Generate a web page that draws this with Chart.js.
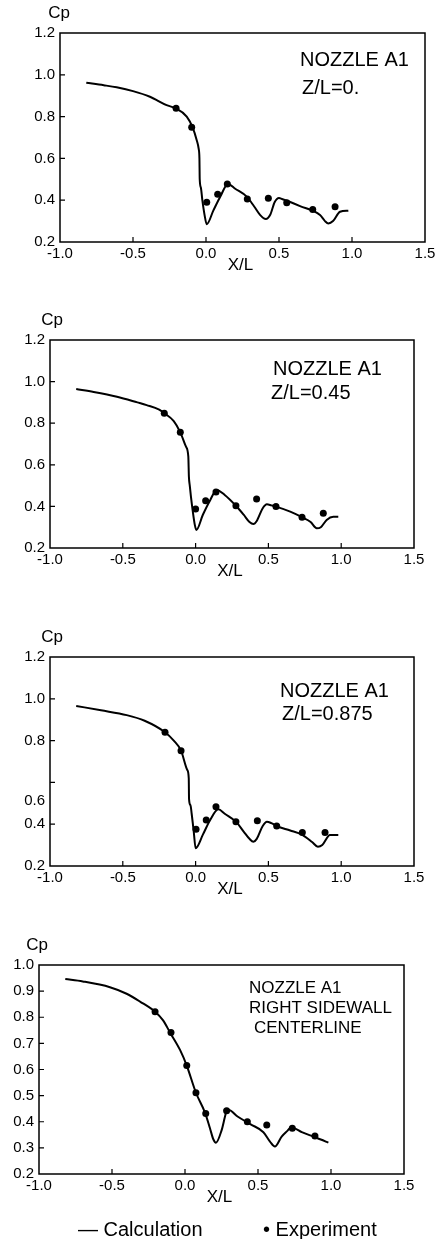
<!DOCTYPE html>
<html>
<head>
<meta charset="utf-8">
<script src="https://cdn.jsdelivr.net/npm/chart.js@4.4.0/dist/chart.umd.min.js"></script>
<style>
  html, body { margin: 0; padding: 0; background: #fff; }
  #page { position: relative; width: 440px; height: 1239px; overflow: hidden; font-family: "Liberation Sans", Arial, sans-serif; }
  #page canvas { position: absolute; left: 0; }
  .legend { position: absolute; top: 1219px; font-size: 20px; line-height: 20px; color: #000; white-space: nowrap; }
</style>
</head>
<body>
<div id="page">
  <canvas id="c1" width="440" height="300" style="top:0"></canvas>
  <canvas id="c2" width="440" height="300" style="top:300px"></canvas>
  <canvas id="c3" width="440" height="300" style="top:600px"></canvas>
  <canvas id="c4" width="440" height="339" style="top:900px"></canvas>
  <div class="legend" style="left:78px">— Calculation</div>
  <div class="legend" style="left:263px">• Experiment</div>
</div>
<script>
// Cp langs X/L, nozzle A1

const xTicks = [-1.0, -0.5, 0.0, 0.5, 1.0, 1.5];

// Paneel 1: Z/L = 0.
const calcX1 = [-0.82, -0.7, -0.612, -0.5, -0.384, -0.27, -0.21, -0.132, -0.091, -0.064, -0.05, -0.045, -0.043, -0.035, -0.025, -0.01, 0.005, 0.05, 0.1, 0.15, 0.2, 0.279, 0.33, 0.37, 0.41, 0.44, 0.47, 0.5, 0.52, 0.644, 0.781, 0.815, 0.838, 0.87, 0.918, 0.975];
const calcY1 = [0.962, 0.95, 0.94, 0.922, 0.895, 0.855, 0.84, 0.80, 0.747, 0.688, 0.645, 0.60, 0.50, 0.46, 0.40, 0.33, 0.285, 0.35, 0.42, 0.478, 0.455, 0.417, 0.37, 0.33, 0.31, 0.33, 0.39, 0.41, 0.406, 0.372, 0.329, 0.30, 0.289, 0.30, 0.345, 0.35];
const expX1 = [-0.205, -0.098, 0.005, 0.08, 0.146, 0.283, 0.427, 0.553, 0.731, 0.884];
const expY1 = [0.84, 0.749, 0.39, 0.428, 0.477, 0.406, 0.409, 0.388, 0.356, 0.369];

// Paneel 2: Z/L = 0.45
const calcX2 = [-0.82, -0.7, -0.54, -0.4, -0.336, -0.25, -0.215, -0.15, -0.105, -0.066, -0.05, -0.046, -0.04, -0.032, -0.02, -0.005, 0.005, 0.05, 0.1, 0.145, 0.2, 0.277, 0.33, 0.37, 0.397, 0.42, 0.46, 0.49, 0.52, 0.552, 0.65, 0.731, 0.79, 0.832, 0.86, 0.9, 0.946, 0.98];
const calcY2 = [0.964, 0.95, 0.927, 0.90, 0.887, 0.865, 0.848, 0.81, 0.756, 0.687, 0.639, 0.543, 0.50, 0.447, 0.38, 0.31, 0.287, 0.36, 0.43, 0.479, 0.455, 0.403, 0.36, 0.325, 0.315, 0.33, 0.39, 0.41, 0.405, 0.399, 0.375, 0.348, 0.325, 0.295, 0.30, 0.335, 0.35, 0.35];
const expX2 = [-0.215, -0.105, 0.0, 0.069, 0.14, 0.277, 0.419, 0.552, 0.731, 0.877];
const expY2 = [0.848, 0.756, 0.388, 0.427, 0.469, 0.403, 0.436, 0.399, 0.348, 0.367];

// Paneel 3: Z/L = 0.875
const calcX3 = [-0.82, -0.65, -0.473, -0.35, -0.21, -0.15, -0.1, -0.057, -0.047, -0.045, -0.035, -0.027, -0.012, 0.0, 0.05, 0.1, 0.156, 0.2, 0.28, 0.33, 0.37, 0.397, 0.42, 0.46, 0.49, 0.52, 0.56, 0.65, 0.73, 0.8, 0.84, 0.87, 0.923, 0.98];
const calcY3 = [0.966, 0.945, 0.922, 0.895, 0.84, 0.80, 0.752, 0.659, 0.62, 0.52, 0.49, 0.45, 0.36, 0.285, 0.35, 0.42, 0.471, 0.45, 0.41, 0.365, 0.33, 0.316, 0.33, 0.39, 0.412, 0.405, 0.39, 0.37, 0.35, 0.315, 0.292, 0.30, 0.348, 0.348];
const expX3 = [-0.21, -0.1, 0.003, 0.073, 0.14, 0.277, 0.424, 0.557, 0.733, 0.889];
const expY3 = [0.84, 0.752, 0.376, 0.42, 0.484, 0.412, 0.417, 0.391, 0.36, 0.36];

// Paneel 4: rechter zijwand, middellijn
const calcX4 = [-0.82, -0.7, -0.514, -0.4, -0.308, -0.205, -0.15, -0.103, -0.034, 0.012, 0.075, 0.137, 0.171, 0.194, 0.212, 0.251, 0.274, 0.285, 0.3, 0.36, 0.45, 0.537, 0.582, 0.616, 0.662, 0.703, 0.719, 0.74, 0.8, 0.879, 0.93, 0.982];
const calcY4 = [0.946, 0.937, 0.915, 0.89, 0.86, 0.821, 0.788, 0.742, 0.675, 0.615, 0.511, 0.435, 0.375, 0.333, 0.32, 0.368, 0.42, 0.442, 0.445, 0.42, 0.39, 0.36, 0.324, 0.305, 0.343, 0.366, 0.375, 0.376, 0.36, 0.343, 0.332, 0.32];
const expX4 = [-0.205, -0.096, 0.012, 0.075, 0.142, 0.285, 0.427, 0.56, 0.735, 0.89];
const expY4 = [0.821, 0.742, 0.615, 0.511, 0.432, 0.442, 0.40, 0.388, 0.375, 0.345];

const FONT = '"Liberation Sans", Arial, sans-serif';

const toPoints = (xs, ys) => xs.map((x, i) => ({ x: x, y: ys[i] }));

// Kader, naar binnen gerichte tickjes en teksten
const framePlugin = {
    id: 'frame',
    afterDraw(chart, args, opts) {
        const { ctx, chartArea: a, scales } = chart;
        ctx.save();
        ctx.strokeStyle = '#000';
        ctx.lineWidth = 1.5;
        ctx.strokeRect(a.left, a.top, a.right - a.left, a.bottom - a.top);

        ctx.lineWidth = 1.2;
        ctx.beginPath();
        scales.x.ticks.forEach(t => {
            const px = scales.x.getPixelForValue(t.value);
            if (px > a.left + 1 && px < a.right - 1) {
                ctx.moveTo(px, a.bottom);
                ctx.lineTo(px, a.bottom - 5);
            }
        });
        scales.y.ticks.forEach(t => {
            const py = scales.y.getPixelForValue(t.value);
            if (py > a.top + 1 && py < a.bottom - 1) {
                ctx.moveTo(a.left, py);
                ctx.lineTo(a.left + 5, py);
            }
        });
        ctx.stroke();

        ctx.fillStyle = '#000';
        ctx.textBaseline = 'alphabetic';
        // Cp boven de y-as, X/L onder de x-as
        ctx.font = '17px ' + FONT;
        ctx.textAlign = 'center';
        ctx.fillText('Cp', a.left + (opts.cpDx || 0), a.top - 15);
        ctx.fillText('X/L', (a.left + a.right) / 2 - 2, a.bottom + 28);

        // verschoven y-label (zoals in het origineel)
        if (opts.shifted) {
            ctx.font = '15px ' + FONT;
            ctx.textAlign = 'right';
            ctx.textBaseline = 'middle';
            const py = scales.y.getPixelForValue(opts.shifted.value) + opts.shifted.dy;
            ctx.fillText(opts.shifted.text, a.left - 5, py);
            ctx.textBaseline = 'alphabetic';
        }

        ctx.textAlign = 'left';
        (opts.texts || []).forEach(t => {
            ctx.font = t.size + 'px ' + FONT;
            ctx.fillText(t.text, t.x, t.y);
        });
        ctx.restore();
    }
};

function makePanel(id, calc, exp, cfg) {
    const ctx = document.getElementById(id).getContext('2d');
    return new Chart(ctx, {
        type: 'line',
        data: {
            datasets: [
                {
                    label: 'Calculation',
                    data: calc,
                    borderColor: '#000',
                    borderWidth: 2,
                    pointRadius: 0,
                    cubicInterpolationMode: 'monotone',
                    fill: false
                },
                {
                    label: 'Experiment',
                    data: exp,
                    showLine: false,
                    pointRadius: 3.5,
                    pointBackgroundColor: '#000',
                    pointBorderColor: '#000',
                    pointBorderWidth: 0
                }
            ]
        },
        options: {
            responsive: false,
            animation: false,
            layout: { padding: cfg.padding },
            plugins: {
                legend: { display: false },
                tooltip: { enabled: false },
                frame: cfg.frame
            },
            scales: {
                x: {
                    type: 'linear',
                    min: xTicks[0],
                    max: xTicks[xTicks.length - 1],
                    afterBuildTicks: s => { s.ticks = xTicks.map(v => ({ value: v })); },
                    afterFit: s => { s.height = 30; },
                    grid: { display: false, drawTicks: false },
                    border: { display: false },
                    ticks: {
                        padding: 3,
                        maxRotation: 0,
                        autoSkip: false,
                        color: '#000',
                        font: { family: FONT, size: 15 },
                        callback: v => Number(v).toFixed(1)
                    }
                },
                y: {
                    type: 'linear',
                    min: cfg.yTicks[0],
                    max: cfg.yTicks[cfg.yTicks.length - 1],
                    afterBuildTicks: s => { s.ticks = cfg.yTicks.map(v => ({ value: v })); },
                    afterFit: s => { s.width = cfg.yWidth; },
                    grid: { display: false, drawTicks: false },
                    border: { display: false },
                    ticks: {
                        padding: 5,
                        autoSkip: false,
                        color: '#000',
                        font: { family: FONT, size: 15 },
                        callback: v => (cfg.hideLabel === v ? '' : Number(v).toFixed(1))
                    }
                }
            }
        },
        plugins: [framePlugin]
    });
}

const yTicksA = [0.2, 0.4, 0.6, 0.8, 1.0, 1.2];
const yTicksB = [0.2, 0.3, 0.4, 0.5, 0.6, 0.7, 0.8, 0.9, 1.0];

makePanel('c1', toPoints(calcX1, calcY1), toPoints(expX1, expY1), {
    padding: { left: 0, right: 15, top: 33, bottom: 28 },
    yWidth: 60,
    yTicks: yTicksA,
    frame: {
        cpDx: -1,
        texts: [
            { text: 'NOZZLE A1', x: 300, y: 66, size: 20 },
            { text: 'Z/L=0.', x: 302, y: 94, size: 20 }
        ]
    }
});

makePanel('c2', toPoints(calcX2, calcY2), toPoints(expX2, expY2), {
    padding: { left: 0, right: 26, top: 40, bottom: 22 },
    yWidth: 50,
    yTicks: yTicksA,
    frame: {
        cpDx: 2,
        texts: [
            { text: 'NOZZLE A1', x: 273, y: 75, size: 20 },
            { text: 'Z/L=0.45', x: 271, y: 99, size: 20 }
        ]
    }
});

makePanel('c3', toPoints(calcX3, calcY3), toPoints(expX3, expY3), {
    padding: { left: 0, right: 26, top: 57, bottom: 4 },
    yWidth: 50,
    yTicks: yTicksA,
    hideLabel: 0.6,
    frame: {
        cpDx: 2,
        shifted: { value: 0.6, dy: 18, text: '0.6' },
        texts: [
            { text: 'NOZZLE A1', x: 280, y: 97, size: 20 },
            { text: 'Z/L=0.875', x: 282, y: 120, size: 20 }
        ]
    }
});

makePanel('c4', toPoints(calcX4, calcY4), toPoints(expX4, expY4), {
    padding: { left: 0, right: 36, top: 65, bottom: 35 },
    yWidth: 39,
    yTicks: yTicksB,
    frame: {
        cpDx: -2,
        texts: [
            { text: 'NOZZLE A1', x: 249, y: 93, size: 17 },
            { text: 'RIGHT SIDEWALL', x: 249, y: 113, size: 17 },
            { text: 'CENTERLINE', x: 254, y: 133, size: 17 }
        ]
    }
});
</script>
</body>
</html>
